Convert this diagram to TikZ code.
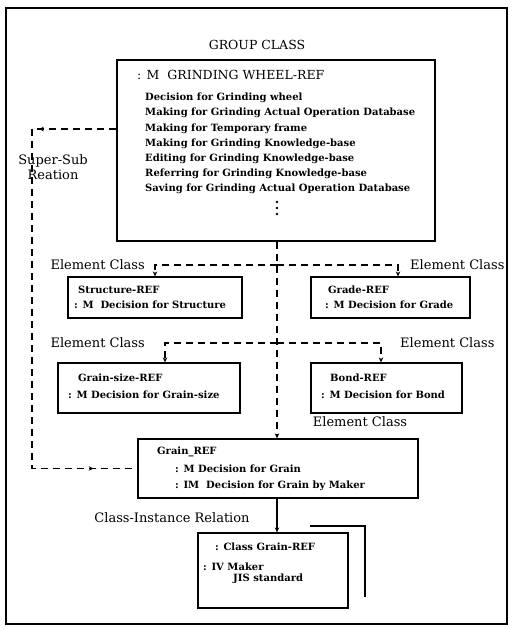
\documentclass[tikz,border=0pt]{standalone}
\usepackage{fontspec}
\setmainfont{DejaVu Serif}
\usetikzlibrary{arrows.meta,positioning,fit,decorations.markings}

\begin{document}
\begin{tikzpicture}[
  x=1pt, y=-1pt,
  box/.style={rectangle, draw=black, line width=1.3pt, inner sep=0pt},
  mainbox/.style={box, line width=2.4pt},
  txt/.style={anchor=west, inner sep=0pt, font=\fontsize{10}{12}\selectfont\bfseries},
  lab/.style={inner sep=0pt, font=\fontsize{13}{15}\selectfont},
  hdr/.style={inner sep=0pt, font=\fontsize{12.5}{15}\selectfont},
  dlink/.style={line width=1.3pt, dash pattern=on 7pt off 5pt},
  arw/.style={-{Stealth[length=5pt,width=4.5pt]}},
]
\useasboundingbox (0,0) rectangle (512,630);
% outer frame and title
\node[draw, line width=1.6pt, inner sep=0pt, fit={(6,8) (507,624)}] (frame) {};
\node[hdr] (grp) at (257,45) {GROUP CLASS};

% group class box
\node[mainbox, fit={(117,60) (435,241)}] (main) {};
\node[hdr, anchor=west] (mhead) at (137,75) {: M\ \ GRINDING WHEEL-REF};
\node[txt] (m1) at (145,98) {Decision for Grinding wheel};
\node[txt] (m2) at (145,113) {Making for Grinding Actual Operation Database};
\node[txt] (m3) at (145,129) {Making for Temporary frame};
\node[txt] (m4) at (145,144) {Making for Grinding Knowledge-base};
\node[txt] (m5) at (145,159) {Editing for Grinding Knowledge-base};
\node[txt] (m6) at (145,174) {Referring for Grinding Knowledge-base};
\node[txt] (m7) at (145,189) {Saving for Grinding Actual Operation Database};
\foreach \y in {202,208,214} \fill (277,\y) circle (1.3pt);
\node[lab, align=center] (ssub) at (53,167) {Super-Sub\\Reation};

% element classes
\node[box, fit={(68,277) (242,318)}] (struct) {};
\node[txt] (st1) at (78,290) {Structure-REF};
\node[txt] (st2) at (74,305) {: M\ \ Decision for Structure};
\node[box, fit={(311,277) (470,318)}] (grade) {};
\node[txt] (gd1) at (328,290) {Grade-REF};
\node[txt] (gd2) at (325,305) {: M Decision for Grade};
\node[box, fit={(58,363) (240,413)}] (gsize) {};
\node[txt] (gs1) at (78,378) {Grain-size-REF};
\node[txt] (gs2) at (68,395) {: M Decision for Grain-size};
\node[box, fit={(311,363) (462,413)}] (bond) {};
\node[txt] (bd1) at (330,378) {Bond-REF};
\node[txt] (bd2) at (321,395) {: M Decision for Bond};

% sub class and instance
\node[box, fit={(138,439) (418,498)}] (grain) {};
\node[txt] (gr1) at (157,452) {Grain\_REF};
\node[txt] (gr2) at (175,469) {: M Decision for Grain};
\node[txt] (gr3) at (175,486) {: IM\ \ Decision for Grain by Maker};
\node[box, fit={(198,533) (348,608)}] (inst) {};
\draw[line width=1.3pt] (310,526) -| (365,597);
\node[txt] (in1) at (215,547) {: Class Grain-REF};
\node[txt] (in2) at (203,567) {: IV Maker};
\node[txt] (in3) at (233,579) {JIS standard};

% relations
\coordinate (j1) at (277,265);
\coordinate (j2) at (277,343);
\coordinate (e1) at (155,265);
\coordinate (e2) at (398,265);
\coordinate (e3) at (165,343);
\coordinate (e4) at (381,343);
\coordinate (ss) at (32,129);
\draw[dlink, arw] (main.south -| j1) -- (grain.north -| j1);
\draw[dlink, arw] (j1) -- (e1) -- (e1 |- struct.north);
\draw[dlink, arw] (j1) -- (e2) -- (e2 |- grade.north);
\draw[dlink, arw] (j2) -- (e3) -- (e3 |- gsize.north);
\draw[dlink, arw] (j2) -- (e4) -- (e4 |- bond.north);
\draw[dlink, postaction={decorate}, decoration={markings,
    mark=at position 77pt with {\arrow{Stealth[length=5pt,width=4.5pt]}},
    mark=at position 485pt with {\arrow{Stealth[length=5pt,width=4.5pt]}}}]
  (main.west |- m3) -- (ss) |- (grain.west);
\draw[line width=1.3pt, arw] (grain.south -| j1) -- (inst.north -| j1);

\node[lab, left=10pt of e1] (ec1) {Element Class};
\node[lab, right=12pt of e2] (ec2) {Element Class};
\node[lab, left=20pt of e3] (ec3) {Element Class};
\node[lab, right=19pt of e4] (ec4) {Element Class};
\node[lab] (ec5) at (360,422) {Element Class};
\node[lab] (cir) at (172,518) {Class-Instance Relation};
\end{tikzpicture}
\end{document}
